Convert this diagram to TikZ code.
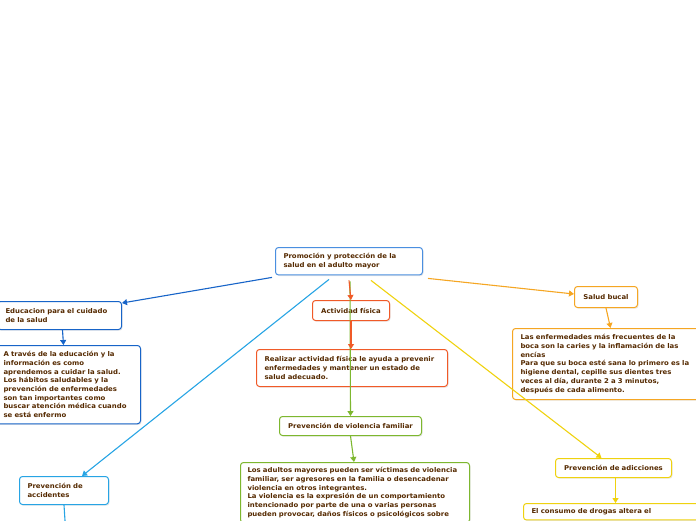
\documentclass[tikz,border=0pt]{standalone}
\usepackage{fontspec}
\setmainfont{DejaVu Sans}[FakeStretch=1.05]
\usepackage{xcolor}
\usetikzlibrary{arrows.meta, positioning, shadows}

\definecolor{inktext}{HTML}{552A00}
\definecolor{mainblue}{HTML}{4A8FE0}
\definecolor{darkblue}{HTML}{1764C8}
\definecolor{skyblue}{HTML}{27A4E4}
\definecolor{redorange}{HTML}{F05A28}
\definecolor{leafgreen}{HTML}{7DB72F}
\definecolor{amber}{HTML}{F5A623}
\definecolor{lemon}{HTML}{EFD20F}

\begin{document}
\begin{tikzpicture}[
      x=1pt, y=-1pt,
      font=\fontsize{6.6}{8.7}\selectfont\bfseries,
      topic/.style={draw=#1, line width=1pt, rounded corners=3pt, fill=white,
                    text=inktext, anchor=north west, inner xsep=8pt, inner ysep=6pt,
                    align=left,
                    drop shadow={opacity=0.18, shadow xshift=1pt, shadow yshift=-1.2pt}},
      link/.style={draw=#1, line width=1.1pt, -{Triangle[length=5pt,width=6pt]}},
    ]
    \useasboundingbox (0,0) rectangle (696,520);
    \clip (0,0) rectangle (696,520);

    % --- central topic ---
    \node[topic=mainblue, text width=131pt, minimum height=27pt] (salud) at (275,247)
      {Promoción y protección de la\\salud en el adulto mayor};

    % --- left branch: educacion ---
    \node[topic=darkblue, text width=108pt, minimum height=28pt] (educ) at (-3,301)
      {Educacion para el cuidado\\de la salud};
    \node[topic=darkblue, text width=128pt, inner xsep=9pt, minimum height=78pt] (eductxt) at (-6,345)
      {A través de la educación y la\\información es como\\aprendemos a cuidar la salud.\\
       Los hábitos saludables y la\\prevención de enfermedades\\son tan importantes como\\
       buscar atención médica cuando\\se está enfermo};

    % --- left branch: accidentes ---
    \node[topic=skyblue, text width=73pt, minimum height=28pt] (accid) at (19,476)
      {Prevención de\\accidentes};
    \coordinate (accnext) at (66,536);

    % --- middle branch: actividad fisica ---
    \node[topic=redorange, text width=63pt, inner xsep=7pt, minimum height=20pt, align=center] (activ) at (312,300)
      {Actividad física};
    \node[topic=redorange, text width=175pt, minimum height=37pt] (activtxt) at (256,349)
      {Realizar actividad física le ayuda a prevenir\\enfermedades y mantener un estado de\\salud adecuado.};

    % --- middle branch: violencia familiar ---
    \node[topic=leafgreen, text width=130pt, inner xsep=6pt, minimum height=19pt, align=center] (violen) at (279,416)
      {Prevención de violencia familiar};
    \node[topic=leafgreen, text width=215pt, inner xsep=7pt, inner ysep=5pt] (violentxt) at (240,462)
      {Los adultos mayores pueden ser víctimas de violencia\\familiar, ser agresores en la familia o desencadenar\\
       violencia en otros integrantes.\\La violencia es la expresión de un comportamiento\\
       intencionado por parte de una o varias personas\\pueden provocar, daños físicos o psicológicos sobre};

    % --- right branch: salud bucal ---
    \node[topic=amber, text width=51pt, inner xsep=6pt, minimum height=21pt, align=center] (bucal) at (574,286)
      {Salud bucal};
    \node[topic=amber, text width=182pt, minimum height=71pt] (bucaltxt) at (512,328)
      {Las enfermedades más frecuentes de la\\boca son la caries y la inflamación de las\\encías\\
       Para que su boca esté sana lo primero es la\\higiene dental, cepille sus dientes tres\\
       veces al día, durante 2 a 3 minutos,\\después de cada alimento.};

    % --- right branch: adicciones ---
    \node[topic=lemon, text width=104pt, inner xsep=6pt, minimum height=19pt, align=center] (adicc) at (555,458)
      {Prevención de adicciones};
    \node[topic=lemon, text width=174pt, inner ysep=5pt] (adicctxt) at (523,503)
      {El consumo de drogas altera el};

    % --- links from the central topic ---
    \draw[link=darkblue] ([xshift=-3pt,yshift=-2pt]salud.south west) -- ([yshift=-2pt]educ.north east);
    \draw[link=skyblue] ([xshift=-20pt,yshift=-4pt]salud.south) -- ([xshift=18pt]accid.north);
    \draw[link=leafgreen] ([xshift=1pt,yshift=-6pt]salud.south) -- (violen.north);
    \draw[link=redorange] ([yshift=-5pt]salud.south) -- (activ.north);
    \draw[link=amber] ([xshift=5pt,yshift=-3pt]salud.south east) -- ([yshift=3pt]bucal.west);
    \draw[link=lemon] ([xshift=22pt,yshift=-5pt]salud.south) -- ([xshift=-12pt]adicc.north);

    % --- links inside each branch ---
    \draw[link=darkblue] ([xshift=3pt]educ.south) -- ([xshift=-4pt]eductxt.north);
    \draw[link=skyblue] (accid.south) -- (accnext);
    \draw[link=redorange] (activ.south) -- ([xshift=-1pt]activtxt.north);
    \draw[link=leafgreen] (violen.south) -- ([xshift=-1pt]violentxt.north);
    \draw[link=amber] (bucal.south) -- ([xshift=-1pt]bucaltxt.north);
    \draw[link=lemon] ([xshift=2pt]adicc.south) -- ([xshift=-3pt]adicctxt.north);
  \end{tikzpicture}
\end{document}
